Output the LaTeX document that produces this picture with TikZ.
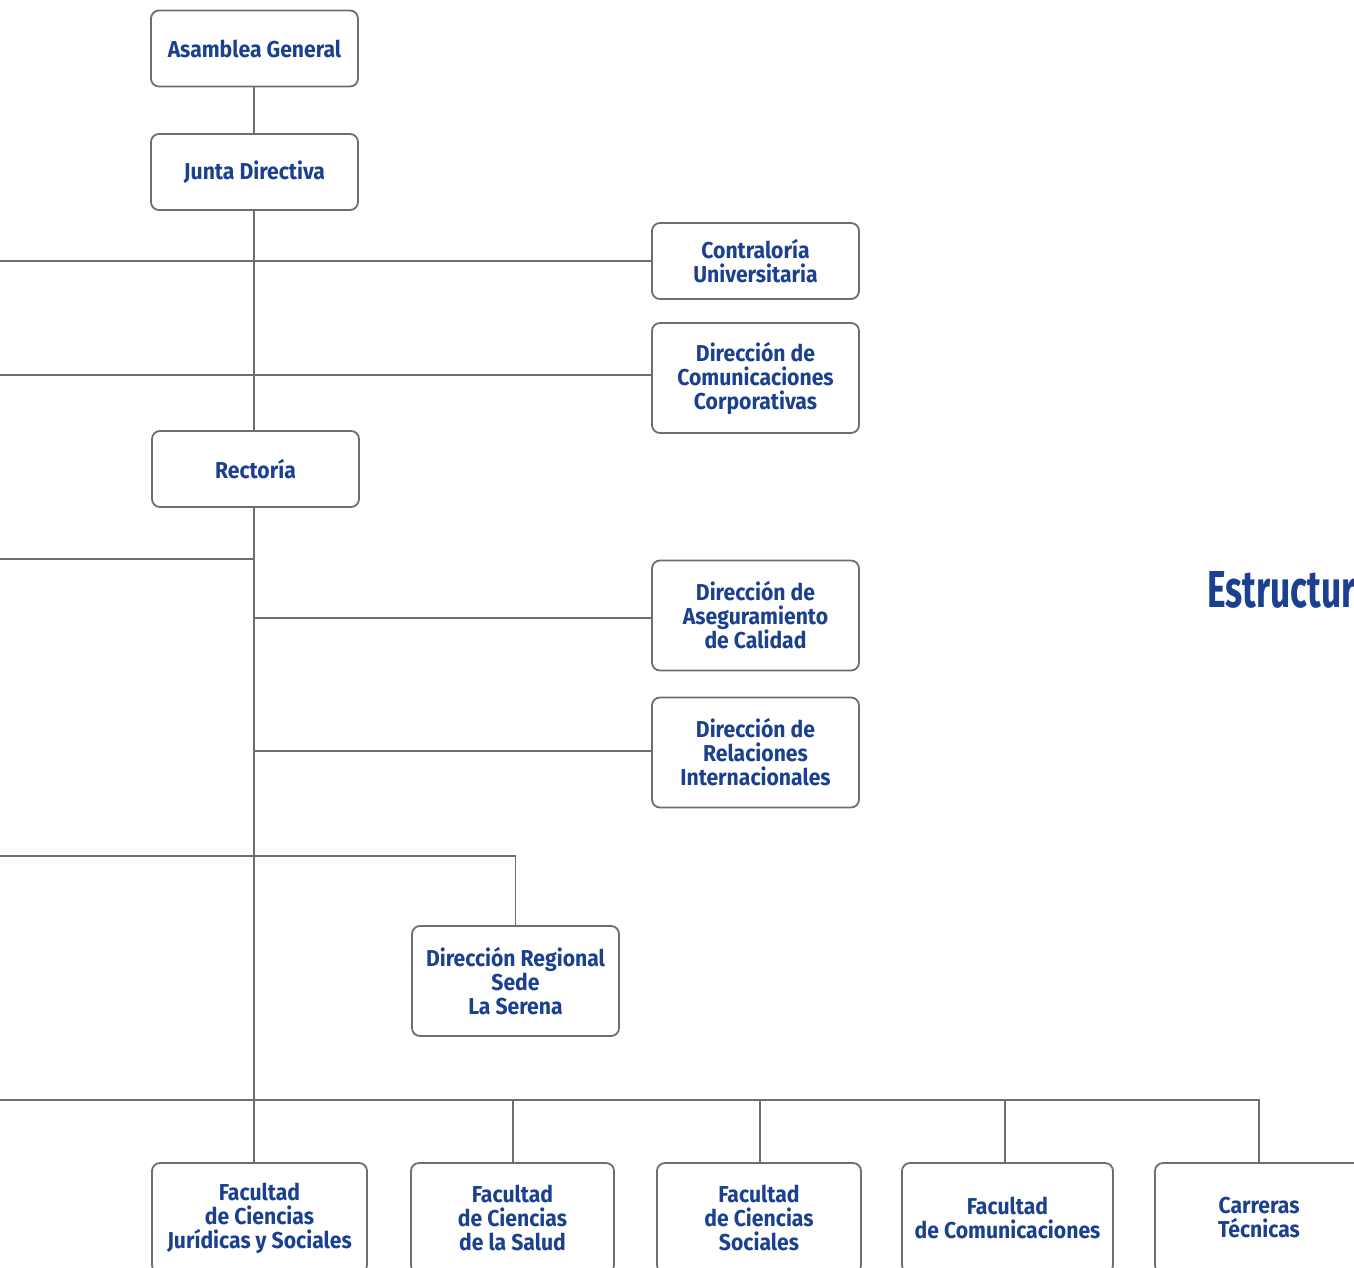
\documentclass[tikz,border=0pt]{standalone}
\usepackage{fontspec}
\setmainfont{Fira Sans}[FakeStretch=0.92,UprightFont=*,BoldFont=* Bold]
\newfontfamily\titlefont{Fira Sans Bold}[FakeStretch=0.68]
\definecolor{ublue}{HTML}{1B4090}
\definecolor{lgray}{HTML}{6E6E6E}
\begin{document}
\begin{tikzpicture}[x=1pt,y=-1pt,
  orgbox/.style={draw=lgray,line width=1.8pt,rounded corners=8pt,fill=white,text=ublue,
    font=\bfseries\fontsize{23}{24}\selectfont,align=center,inner sep=0pt,
    minimum width=207pt,minimum height=76pt},
  tallbox/.style={orgbox,minimum height=110pt},
  conn/.style={draw=lgray,line width=1.8pt}]
\useasboundingbox (0,0) rectangle (1354,1268);
\clip (0,0) rectangle (1354,1268);
% nodes
\node[orgbox] (asam) at (254.5,48.5) {Asamblea General};
\node[orgbox] (junta) at (254.5,172) {Junta Directiva};
\node[orgbox] (contra) at (755.5,261) {Contraloría\\Universitaria};
\node[tallbox] (comu) at (755.5,378) {Dirección de\\Comunicaciones\\Corporativas};
\node[orgbox] (rect) at (255.5,469) {Rectoría};
\node[tallbox] (aseg) at (755.5,615.5) {Dirección de\\Aseguramiento\\de Calidad};
\node[tallbox] (rel) at (755.5,752.5) {Dirección de\\Relaciones\\Internacionales};
\node[tallbox] (reg) at (515.5,981) {Dirección Regional\\Sede\\La Serena};
\node[tallbox,minimum width=215pt] (fac1) at (259.5,1218) {Facultad\\de Ciencias\\Jurídicas y Sociales};
\node[tallbox,minimum width=203pt] (fac2) at (512.5,1218) {Facultad\\de Ciencias\\de la Salud};
\node[tallbox,minimum width=204pt] (fac3) at (759,1218) {Facultad\\de Ciencias\\Sociales};
\node[tallbox,minimum width=211pt] (fac4) at (1007.5,1218) {Facultad\\de Comunicaciones};
\node[tallbox,minimum width=208pt] (fac5) at (1259,1218) {Carreras\\Técnicas};
\node[text=ublue,font=\titlefont\fontsize{52}{52}\selectfont,anchor=base west,inner sep=0pt] (title) at (1207,607) {Estructur};
% coordinates
\coordinate (L1) at (0,261);
\coordinate (L2) at (0,375);
\coordinate (L3) at (0,559);
\coordinate (L4) at (0,856);
\coordinate (L5) at (0,1100);
\coordinate (T1) at (254,618);
\coordinate (T2) at (254,751);
% connectors
\draw[conn] (asam.south -| 254,0) -- (junta.north -| 254,0);
\draw[conn] (junta.south -| 254,0) -- (rect.north -| 254,0);
\draw[conn] (rect.south -| 254,0) -- (fac1.north -| 254,0);
\draw[conn] (L1) -- (L1 -| contra.west);
\draw[conn] (L2) -- (L2 -| comu.west);
\draw[conn] (L3) -- (254,559);
\draw[conn] (T1) -- (T1 -| aseg.west);
\draw[conn] (T2) -- (T2 -| rel.west);
\draw[conn] (L4) -- (L4 -| reg.north) -- (reg.north);
\draw[conn] (L5) -- (L5 -| fac5.north) -- (fac5.north);
\draw[conn] (513,1100) -- (fac2.north -| 513,0);
\draw[conn] (760,1100) -- (fac3.north -| 760,0);
\draw[conn] (1005,1100) -- (fac4.north -| 1005,0);
\end{tikzpicture}
\end{document}
